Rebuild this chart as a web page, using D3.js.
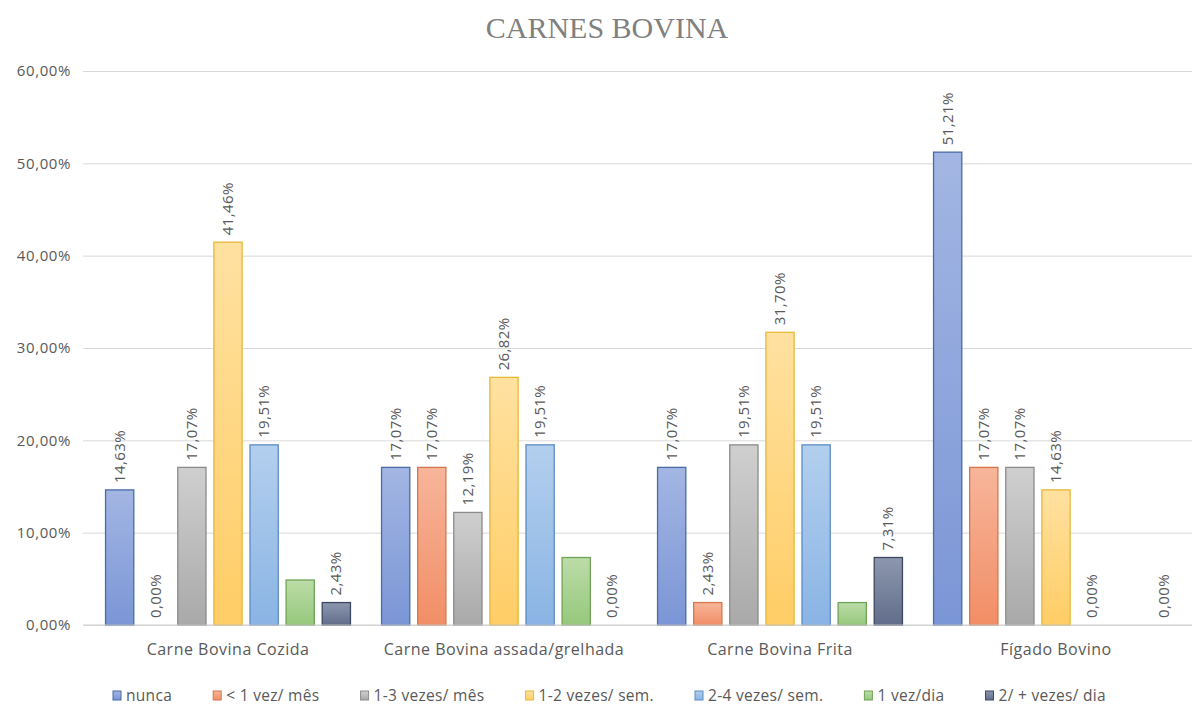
<!DOCTYPE html>
<html>
<head>
<meta charset="utf-8">
<script src="https://cdn.jsdelivr.net/npm/d3@7/dist/d3.min.js"></script>
<style>
  html, body { margin: 0; padding: 0; background: #fff; }
  svg { display: block; }
</style>
</head>
<body>
<svg id="chart" width="1195" height="706"></svg>
<script>
// Consumption frequency of beef items (share of respondents)
const categories = ["Carne Bovina Cozida", "Carne Bovina assada/grelhada", "Carne Bovina Frita", "Fígado Bovino"];
const seriesNames = ["nunca", "< 1 vez/ mês", "1-3 vezes/ mês", "1-2 vezes/ sem.", "2-4 vezes/ sem.", "1 vez/dia", "2/ + vezes/ dia"];
const nunca        = [14.63, 17.07, 17.07, 51.21];
const menos1Mes    = [0.00, 17.07, 2.43, 17.07];
const vezes13Mes   = [17.07, 12.19, 19.51, 17.07];
const vezes12Sem   = [41.46, 26.82, 31.70, 14.63];
const vezes24Sem   = [19.51, 19.51, 19.51, 0.00];
const vez1Dia      = [4.87, 7.31, 2.43, 0.00];
const vezes2Dia    = [2.43, 0.00, 7.31, 0.00];
const seriesValues = [nunca, menos1Mes, vezes13Mes, vezes12Sem, vezes24Sem, vez1Dia, vezes2Dia];
// the "1 vez/dia" series carries no data labels
const seriesLabelled = [true, true, true, true, true, false, true];
const yTicks = [0, 10, 20, 30, 40, 50, 60];
const chartTitle = "CARNES BOVINA";

const fills = [
  ["#a3b6e3", "#7b96d6", "#4a6aa8"],
  ["#f7b59a", "#f18e66", "#d4774f"],
  ["#cfcfcf", "#a9a9a9", "#8c8c8c"],
  ["#ffe1a0", "#ffcd66", "#e8b838"],
  ["#b3cfee", "#8ab4e4", "#5d8cc4"],
  ["#bcdca8", "#96c87c", "#6fa357"],
  ["#8d97ae", "#616d8a", "#3c4861"]
];

const textFont = "'Open Sans', 'DejaVu Sans', sans-serif";
const textColor = "#595959";

const svg = d3.select("#chart");
const defs = svg.append("defs");
fills.forEach((f, i) => {
  const g = defs.append("linearGradient").attr("id", "grad" + i)
    .attr("x1", 0).attr("y1", 0).attr("x2", 0).attr("y2", 1);
  g.append("stop").attr("offset", "0%").attr("stop-color", f[0]);
  g.append("stop").attr("offset", "100%").attr("stop-color", f[1]);
});

const y = d3.scaleLinear().domain([0, 60]).range([625, 71]);
const x0 = d3.scaleBand().domain(categories).range([90, 1194]).paddingInner(0.109).paddingOuter(0.0545);
const x1 = d3.scaleBand().domain(d3.range(seriesNames.length)).range([0, x0.bandwidth()]).paddingInner(0.19).paddingOuter(0);

const fmt = v => v.toFixed(2).replace(".", ",") + "%";

// title
svg.append("text")
  .attr("x", 607).attr("y", 38)
  .attr("text-anchor", "middle")
  .attr("font-family", "'Liberation Serif', 'DejaVu Serif', serif")
  .attr("font-size", 30)
  .attr("fill", "#808080")
  .text(chartTitle);

// gridlines and y axis
const yAxis = d3.axisLeft(y).tickValues(yTicks).tickSize(-(1192 - 83)).tickFormat(d => fmt(d)).tickPadding(12);
const gy = svg.append("g").attr("transform", "translate(83,0)").call(yAxis);
gy.select(".domain").remove();
gy.selectAll(".tick line").attr("stroke", "#d9d9d9").attr("stroke-width", 1);
gy.selectAll(".tick text")
  .attr("font-family", textFont)
  .attr("font-size", 15)
  .attr("letter-spacing", 0.6)
  .attr("fill", textColor);

// bars
const groups = svg.append("g").selectAll("g.grp")
  .data(categories).join("g")
  .attr("class", "grp")
  .attr("transform", d => `translate(${x0(d)},0)`);

groups.each(function(cat, ci) {
  const g = d3.select(this);
  seriesValues.forEach((vals, si) => {
    const v = vals[ci];
    if (v > 0) {
      g.append("rect")
        .attr("x", x1(si) + 0.5)
        .attr("y", y(v))
        .attr("width", x1.bandwidth() - 1)
        .attr("height", y(0) - y(v))
        .attr("fill", `url(#grad${si})`)
        .attr("stroke", fills[si][2])
        .attr("stroke-width", 1.3);
    }
    if (seriesLabelled[si]) {
      const cx = x1(si) + x1.bandwidth() / 2;
      const ty = y(v) - 7;
      g.append("text")
        .attr("transform", `translate(${cx + 5},${ty}) rotate(-90)`)
        .attr("text-anchor", "start")
        .attr("font-family", textFont)
        .attr("font-size", 15)
        .attr("letter-spacing", 0.4)
        .attr("fill", textColor)
        .text(fmt(v));
    }
  });
});

// baseline
svg.append("line")
  .attr("x1", 83).attr("x2", 1192)
  .attr("y1", y(0)).attr("y2", y(0))
  .attr("stroke", "#d0d0d0").attr("stroke-width", 1.2);

// category labels
svg.append("g").selectAll("text")
  .data(categories).join("text")
  .attr("x", d => x0(d) + x0.bandwidth() / 2)
  .attr("y", 655)
  .attr("text-anchor", "middle")
  .attr("font-family", textFont)
  .attr("font-size", 16)
  .attr("letter-spacing", 0.5)
  .attr("fill", textColor)
  .text(d => d);

// legend
const legend = svg.append("g").attr("transform", "translate(0,701)");
const items = legend.selectAll("g").data(seriesNames).join("g");
items.append("rect")
  .attr("x", 0).attr("y", -10)
  .attr("width", 8).attr("height", 9)
  .attr("fill", (d, i) => `url(#grad${i})`)
  .attr("stroke", (d, i) => fills[i][2]);
items.append("text")
  .attr("x", 13).attr("y", 0)
  .attr("font-family", textFont)
  .attr("font-size", 15.5)
  .attr("letter-spacing", 0.3)
  .attr("fill", textColor)
  .text(d => d);
const widths = [];
items.each(function() { widths.push(this.getBBox().width); });
const legendLeft = 113, legendRight = 1106;
const gap = (legendRight - legendLeft - d3.sum(widths)) / (widths.length - 1);
let cursor = legendLeft;
items.attr("transform", (d, i) => {
  const t = `translate(${cursor},0)`;
  cursor += widths[i] + gap;
  return t;
});
</script>
</body>
</html>
